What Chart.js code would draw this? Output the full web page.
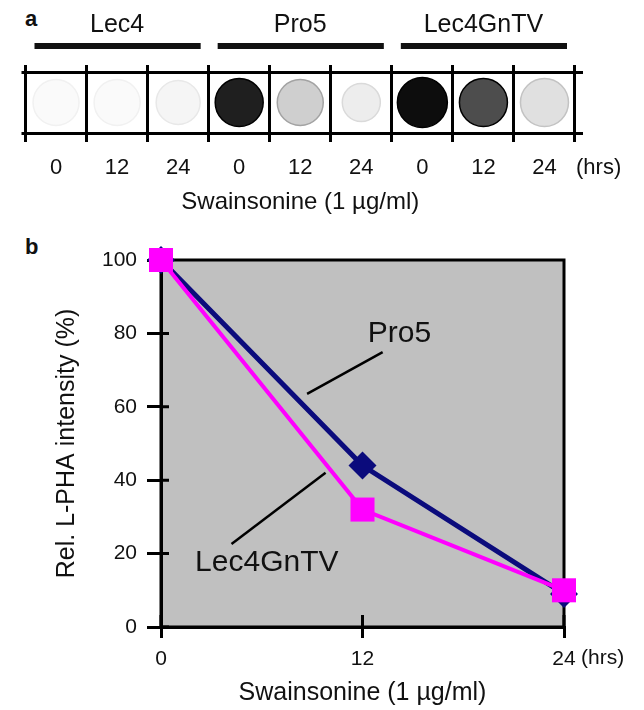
<!DOCTYPE html>
<html>
<head>
<meta charset="utf-8">
<script src="https://cdn.jsdelivr.net/npm/chart.js@4.4.1/dist/chart.umd.min.js"></script>
<style>
  html, body { margin: 0; padding: 0; background: #fff; }
  body { width: 644px; height: 710px; position: relative; overflow: hidden; }
  .panel { position: absolute; left: 0; width: 644px; }
  .tag { position: absolute; font: bold 22px "Liberation Sans", Arial, sans-serif; line-height: 22px; color: #111; }
</style>
</head>
<body>
<div class="tag" style="left:25px;top:8px">a</div>
<div class="tag" style="left:25px;top:236px">b</div>
<div class="panel" style="top:0;height:220px"><canvas id="blot"></canvas></div>
<div class="panel" style="top:230px;height:480px"><canvas id="curve"></canvas></div>
<script>
// Dot blot (a) and L-PHA intensity curve (b).

const FONT = '"Liberation Sans", Arial, sans-serif';
const INK = "#111";

// panel a data
const cellLines = ["Lec4", "Pro5", "Lec4GnTV"];
const hourLabels = ["0", "12", "24"];
const lec4Density = [0.02, 0.02, 0.04];
const pro5Density = [0.88, 0.19, 0.07];
const lec4GnTVDensity = [0.95, 0.70, 0.12];

// panel b data
const timePoints = [0, 12, 24];
const pro5Intensity = [100, 44, 9];
const lec4GnTVIntensity = [100, 32, 10];

// dot sizes on the membrane
const dotRadius = [23, 23, 22, 24, 23, 19, 25, 24, 24];

// call-outs in data units (hours, %)
const callouts = [
  { text: "Pro5", at: [14.2, 80], from: [13.2, 74.9], to: [8.7, 63.5] },
  { text: "Lec4GnTV", at: [6.3, 17.4], from: [9.8, 42.0], to: [4.2, 22.6] }
];

const densities = [lec4Density, pro5Density, lec4GnTVDensity].flat();
const grey = (d) => {
  const g = Math.round(255 * (1 - Math.min(d, 1)));
  return `rgb(${g},${g},${g})`;
};

const blotDecor = {
  id: "blotDecor",
  afterDraw(chart) {
    const { ctx, chartArea } = chart;
    const cell = (chartArea.right - chartArea.left) / densities.length;
    ctx.save();
    ctx.fillStyle = INK;
    ctx.strokeStyle = INK;
    cellLines.forEach((name, i) => {
      const left = chartArea.left + i * 3 * cell;
      const right = left + 3 * cell;
      ctx.font = `25px ${FONT}`;
      ctx.textAlign = "center";
      ctx.textBaseline = "middle";
      ctx.fillText(name, (left + right) / 2, 25);
      ctx.lineWidth = 6;
      ctx.beginPath();
      ctx.moveTo(left + 9, 46);
      ctx.lineTo(right - 8, 46);
      ctx.stroke();
    });
    ctx.font = `22px ${FONT}`;
    ctx.textAlign = "left";
    ctx.textBaseline = "middle";
    ctx.fillText("(hrs)", chartArea.right + 1, 168);
    ctx.restore();
  }
};

new Chart(document.getElementById("blot"), {
  type: "line",
  data: {
    labels: cellLines.flatMap(() => hourLabels),
    datasets: [{
      data: densities.map(() => 0.5),
      showLine: false,
      pointRadius: dotRadius,
      pointBackgroundColor: densities.map((d) => grey(d)),
      pointBorderColor: densities.map((d) => grey(d * 1.8 + 0.02)),
      pointBorderWidth: 1.5
    }]
  },
  options: {
    responsive: true,
    maintainAspectRatio: false,
    animation: false,
    layout: { padding: { left: 15, right: 61, top: 65, bottom: 0 } },
    plugins: { legend: { display: false }, tooltip: { enabled: false } },
    scales: {
      x: {
        position: "bottom",
        offset: true,
        grid: { offset: true, color: "#000", lineWidth: 3, tickLength: 9 },
        border: { display: false },
        ticks: { color: INK, font: { family: FONT, size: 22 }, padding: 13, maxRotation: 0, autoSkip: false },
        title: { display: true, text: "Swainsonine (1 µg/ml)", color: INK, font: { family: FONT, size: 24 }, padding: { top: 0, bottom: 3 } },
        afterFit: (s) => { s.height = 87; }
      },
      x2: {
        position: "top",
        offset: true,
        grid: { offset: true, drawOnChartArea: false, color: "#000", lineWidth: 3, tickLength: 7 },
        border: { display: false },
        ticks: { display: false },
        afterFit: (s) => { s.height = 7; }
      },
      y: {
        position: "left",
        min: 0, max: 1,
        grid: { color: "#000", lineWidth: 3, tickLength: 4 },
        border: { display: false },
        ticks: { display: false, stepSize: 1 },
        afterFit: (s) => { s.width = 4; }
      },
      y2: {
        position: "right",
        min: 0, max: 1,
        grid: { drawOnChartArea: false, color: "#000", lineWidth: 3, tickLength: 8 },
        border: { display: false },
        ticks: { display: false, stepSize: 1 },
        afterFit: (s) => { s.width = 8; }
      }
    }
  },
  plugins: [blotDecor]
});

const plotFrame = {
  id: "plotFrame",
  beforeDraw(chart) {
    const { ctx, chartArea: a } = chart;
    ctx.save();
    ctx.fillStyle = "#c0c0c0";
    ctx.fillRect(a.left, a.top, a.right - a.left, a.bottom - a.top);
    ctx.restore();
  },
  beforeDatasetsDraw(chart) {
    const { ctx, chartArea: a, scales } = chart;
    ctx.save();
    ctx.strokeStyle = "#000";
    ctx.lineWidth = 3;
    ctx.strokeRect(a.left, a.top, a.right - a.left, a.bottom - a.top);
    ctx.beginPath();
    scales.y.ticks.forEach((t) => {
      const py = scales.y.getPixelForValue(t.value);
      ctx.moveTo(a.left, py);
      ctx.lineTo(a.left + 8, py);
    });
    scales.x.ticks.forEach((t) => {
      const px = scales.x.getPixelForValue(t.value);
      ctx.moveTo(px, a.bottom);
      ctx.lineTo(px, a.bottom - 12);
    });
    ctx.stroke();
    ctx.restore();
  },
  afterDraw(chart) {
    const { ctx, scales } = chart;
    ctx.save();
    ctx.fillStyle = INK;
    ctx.strokeStyle = "#000";
    ctx.lineWidth = 2.5;
    callouts.forEach((c) => {
      ctx.beginPath();
      ctx.moveTo(scales.x.getPixelForValue(c.from[0]), scales.y.getPixelForValue(c.from[1]));
      ctx.lineTo(scales.x.getPixelForValue(c.to[0]), scales.y.getPixelForValue(c.to[1]));
      ctx.stroke();
      ctx.font = `30px ${FONT}`;
      ctx.textAlign = "center";
      ctx.textBaseline = "middle";
      ctx.fillText(c.text, scales.x.getPixelForValue(c.at[0]), scales.y.getPixelForValue(c.at[1]));
    });
    const last = timePoints[timePoints.length - 1];
    ctx.font = `21px ${FONT}`;
    ctx.textAlign = "left";
    ctx.textBaseline = "middle";
    ctx.fillText("(hrs)", scales.x.getPixelForValue(last) + 17, 428);
    ctx.restore();
  }
};

new Chart(document.getElementById("curve"), {
  type: "line",
  data: {
    datasets: [
      {
        label: "Lec4GnTV",
        data: timePoints.map((t, i) => ({ x: t, y: lec4GnTVIntensity[i] })),
        borderColor: "#ff00ff",
        backgroundColor: "#ff00ff",
        borderWidth: 4,
        pointStyle: "rect",
        pointRadius: 17,
        pointBorderWidth: 0,
        clip: false
      },
      {
        label: "Pro5",
        data: timePoints.map((t, i) => ({ x: t, y: pro5Intensity[i] })),
        borderColor: "#0b0b7c",
        backgroundColor: "#0b0b7c",
        borderWidth: 5,
        pointStyle: "rectRot",
        pointRadius: 14,
        pointBorderWidth: 0,
        clip: false
      }
    ]
  },
  options: {
    responsive: true,
    maintainAspectRatio: false,
    animation: false,
    layout: { padding: { left: 0, right: 80, top: 30, bottom: 0 } },
    plugins: { legend: { display: false }, tooltip: { enabled: false } },
    scales: {
      x: {
        type: "linear",
        min: 0, max: 24,
        grid: { drawOnChartArea: false, color: "#000", lineWidth: 3, tickLength: 11 },
        border: { color: "#000", width: 3 },
        ticks: { stepSize: 12, color: INK, font: { family: FONT, size: 21 }, padding: 9, maxRotation: 0 },
        title: { display: true, text: "Swainsonine (1 µg/ml)", color: INK, font: { family: FONT, size: 25 }, padding: { top: 0, bottom: 2 } },
        afterFit: (s) => { s.height = 83; }
      },
      y: {
        min: 0, max: 100,
        grid: { drawOnChartArea: false, color: "#000", lineWidth: 3, tickLength: 14 },
        border: { color: "#000", width: 3 },
        ticks: { stepSize: 20, color: INK, font: { family: FONT, size: 21 }, padding: 10 },
        title: { display: true, text: "Rel. L-PHA intensity (%)", color: INK, font: { family: FONT, size: 25 }, padding: { top: 52, bottom: 0 } },
        afterFit: (s) => { s.width = 161; }
      }
    }
  },
  plugins: [plotFrame]
});
</script>
</body>
</html>
